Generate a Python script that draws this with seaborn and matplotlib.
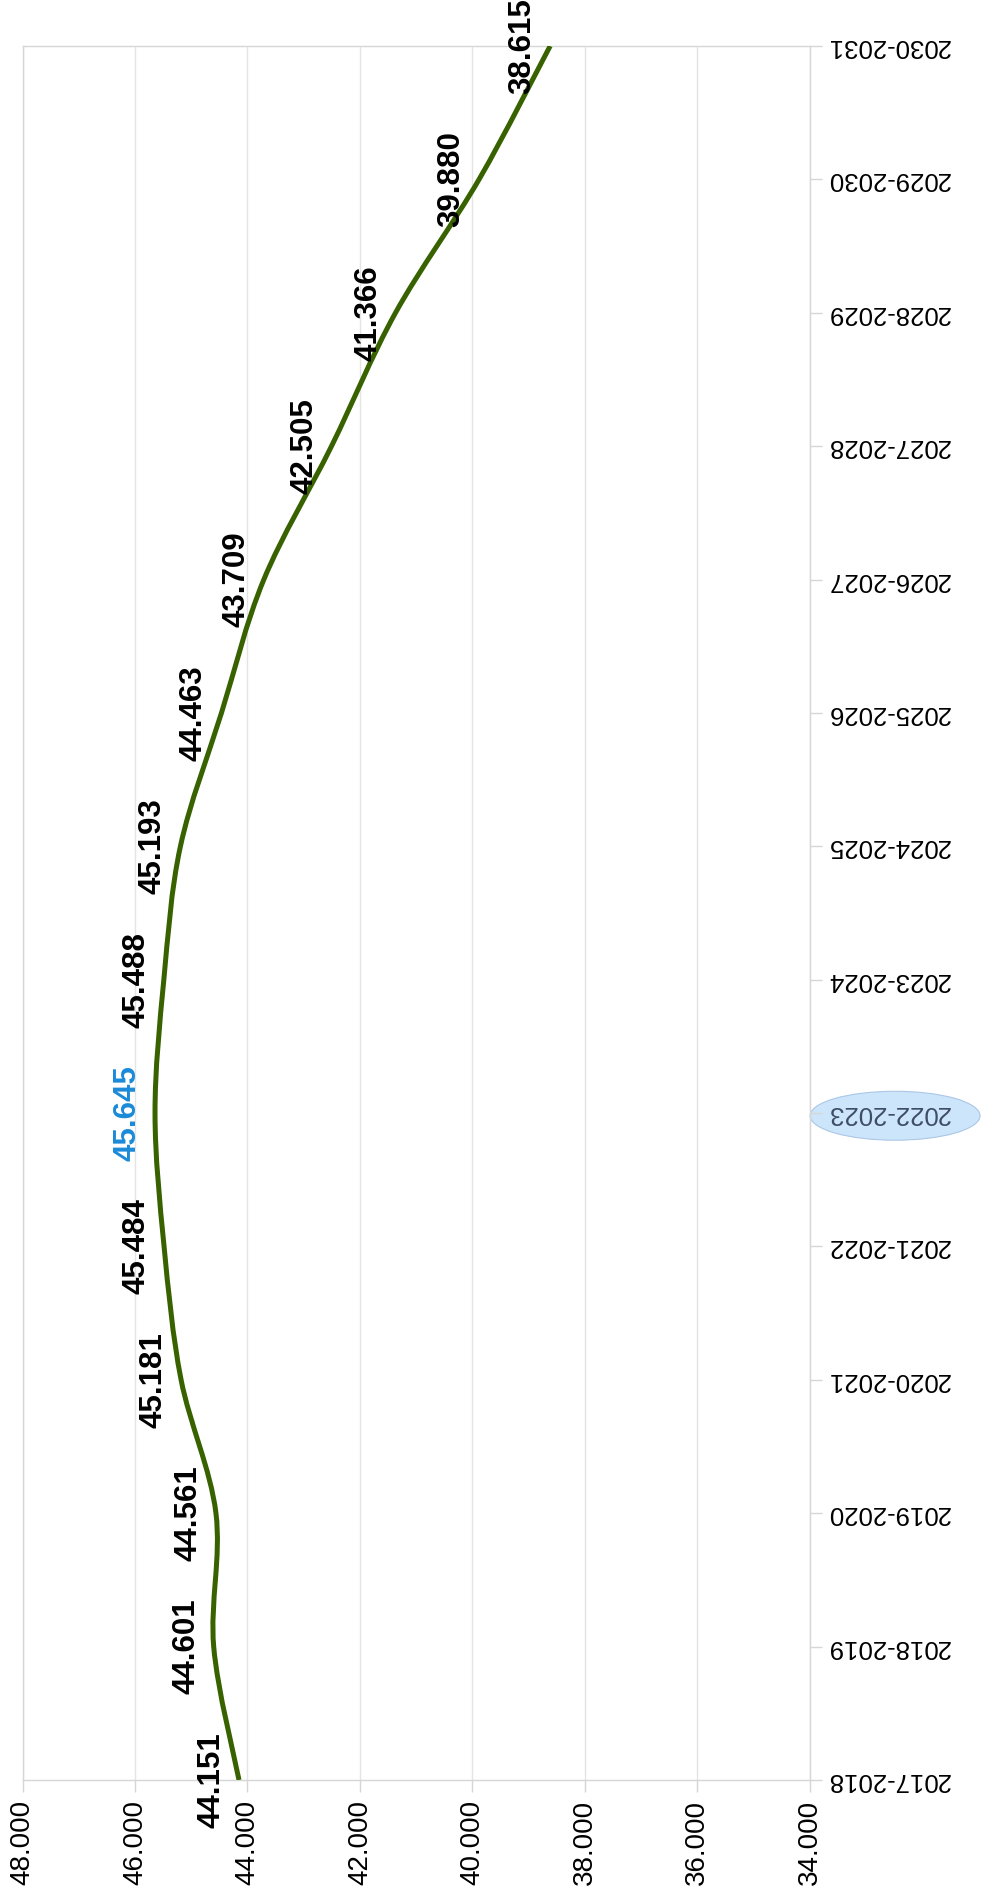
import numpy as np
import pandas as pd
import seaborn as sns
import matplotlib
matplotlib.use("Agg")
import matplotlib.pyplot as plt
from matplotlib.path import Path
from matplotlib.patches import PathPatch, Ellipse
from matplotlib.transforms import blended_transform_factory

# =====================================================
# Datos
# =====================================================
periodos = ["2017-2018", "2018-2019", "2019-2020", "2020-2021", "2021-2022",
            "2022-2023", "2023-2024", "2024-2025", "2025-2026", "2026-2027",
            "2027-2028", "2028-2029", "2029-2030", "2030-2031"]
valores = [44.151, 44.601, 44.561, 45.181, 45.484, 45.645, 45.488,
           45.193, 44.463, 43.709, 42.505, 41.366, 39.880, 38.615]
ticks_valor = [48, 46, 44, 42, 40, 38, 36, 34]
periodo_destacado = "2022-2023"

df = pd.DataFrame({"periodo": periodos, "valor": valores})
df["pos"] = np.arange(len(df))

# =====================================================
# Colores
# =====================================================
color_linea = "#386100"
color_grid = "#e4e4e4"
color_eje = "#d6d6d6"
color_max = "#1a8ad8"
color_elipse = "#cde5fb"
color_texto_destacado = "#3d4d64"


def smooth_path(xs, ys):
    """Curva suavizada tipo Excel (Catmull-Rom -> Bezier cubica)."""
    pts = np.column_stack([xs, ys])
    ext = np.vstack([pts[0], pts, pts[-1]])
    verts = [tuple(pts[0])]
    codes = [Path.MOVETO]
    for i in range(len(pts) - 1):
        p0, p1, p2, p3 = ext[i], ext[i + 1], ext[i + 2], ext[i + 3]
        c1 = p1 + (p2 - p0) / 6.0
        c2 = p2 - (p3 - p1) / 6.0
        verts += [tuple(c1), tuple(c2), tuple(p2)]
        codes += [Path.CURVE4] * 3
    return Path(verts, codes)


sns.set_theme(style="whitegrid")
plt.rcParams["font.family"] = ["Liberation Sans", "DejaVu Sans"]

fig = plt.figure(figsize=(9.81, 18.94), dpi=100)
ax = fig.add_axes([0.0231, 0.0602, 0.8021, 0.9155])
ax.set_facecolor("white")

# linea suavizada
patch = PathPatch(smooth_path(df["valor"].values, df["pos"].values),
                  facecolor="none", edgecolor=color_linea, lw=3.6,
                  capstyle="butt", zorder=3)
ax.add_patch(patch)

# etiquetas de valor
imax = int(np.argmax(valores))
for i, row in df.iterrows():
    ax.annotate(f"{row['valor']:.3f}", (row["valor"], row["pos"]),
                xytext=(-9, 0), textcoords="offset points",
                ha="right", va="center", rotation=90,
                fontsize=22.5, fontweight="bold",
                color=color_max if i == imax else "black", zorder=4,
                annotation_clip=False)

# ejes
ax.set_xlim(48, 34)
ax.set_ylim(0, len(periodos) - 1)
ax.set_xticks(ticks_valor)
ax.set_xticklabels([f"{t:.3f}" for t in ticks_valor], rotation=90)
ax.yaxis.tick_right()
ax.set_yticks(df["pos"])
ax.set_yticklabels(periodos, rotation=180, va="center")

ax.grid(axis="x", color=color_grid, lw=1)
ax.grid(axis="y", visible=False)
for s in ax.spines.values():
    s.set_color(color_eje)
    s.set_linewidth(1)

ax.tick_params(axis="x", bottom=True, direction="out", length=8.5, width=1,
               color=color_eje, labelsize=20, pad=6, labelcolor="black")
ax.tick_params(axis="y", right=True, left=False, direction="out", length=8.5,
               width=1, color=color_eje, labelsize=18.5, pad=4, labelcolor="black")

# periodo destacado
idx = periodos.index(periodo_destacado)
ax.get_yticklabels()[idx].set_color(color_texto_destacado)
trans = blended_transform_factory(ax.transAxes, ax.transData)
ax.add_patch(Ellipse((1.1087, idx - 0.02), 0.216, 0.367, transform=trans,
                     facecolor=color_elipse, edgecolor="#aac7e6", lw=0.8,
                     clip_on=False, zorder=0.5))

fig.savefig("out.png", dpi=100)
